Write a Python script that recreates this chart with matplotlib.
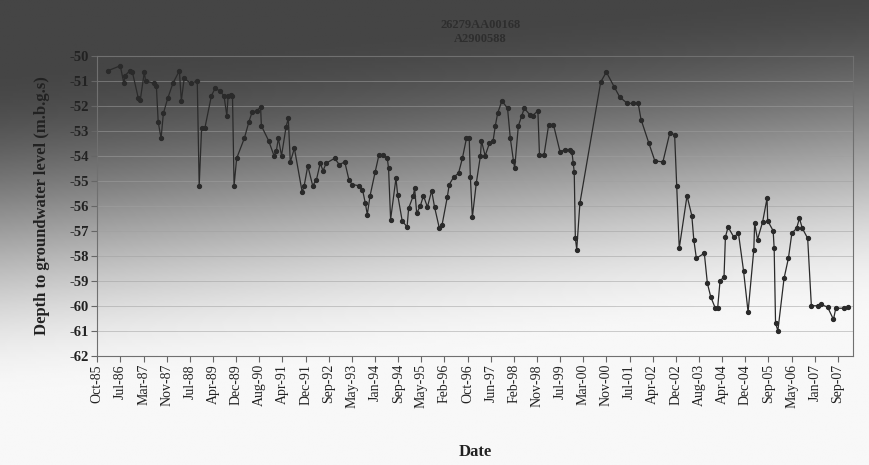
import numpy as np
import pandas as pd
import matplotlib
matplotlib.use('Agg')
import matplotlib.pyplot as plt

# groundwater depth readings
dates = ['1986-01-21', '1986-06-06', '1986-07-15', '1986-07-27', '1986-09-15', '1986-10-15',
         '1986-12-18', '1987-01-09', '1987-02-21', '1987-03-06', '1987-06-01', '1987-07-01',
         '1987-07-21', '1987-08-21', '1987-09-15', '1987-11-01', '1987-12-27', '1988-03-06',
         '1988-03-27', '1988-04-27', '1988-07-06', '1988-09-15', '1988-10-06', '1988-11-01',
         '1988-12-06', '1989-02-15', '1989-03-27', '1989-05-15', '1989-07-01', '1989-08-01',
         '1989-08-15', '1989-09-12', '1989-10-01', '1989-10-18', '1989-11-15', '1990-02-06',
         '1990-03-27', '1990-05-01', '1990-06-21', '1990-08-01', '1990-08-09', '1990-10-27',
         '1990-12-24', '1991-01-18', '1991-02-09', '1991-03-15', '1991-05-03', '1991-05-27',
         '1991-06-18', '1991-08-01', '1991-10-24', '1991-11-15', '1991-12-24', '1992-02-15',
         '1992-03-27', '1992-05-06', '1992-06-06', '1992-07-09', '1992-10-09', '1992-11-27',
         '1993-01-27', '1993-03-12', '1993-04-15', '1993-07-03', '1993-08-06', '1993-09-06',
         '1993-09-27', '1993-10-27', '1993-12-21', '1994-02-01', '1994-03-21', '1994-05-01',
         '1994-05-15', '1994-06-06', '1994-08-03', '1994-08-21', '1994-10-09', '1994-12-01',
         '1994-12-18', '1995-02-06', '1995-02-21', '1995-03-15', '1995-04-24', '1995-05-27',
         '1995-07-09', '1995-08-24', '1995-09-24', '1995-11-15', '1995-12-15', '1996-02-09',
         '1996-03-01', '1996-04-18', '1996-06-09', '1996-07-21', '1996-09-03', '1996-10-03',
         '1996-10-15', '1996-11-06', '1996-12-18', '1997-02-01', '1997-02-12', '1997-03-24',
         '1997-05-09', '1997-06-18', '1997-07-12', '1997-08-06', '1997-09-21', '1997-11-21',
         '1997-12-21', '1998-01-24', '1998-02-06', '1998-03-18', '1998-04-24', '1998-05-21',
         '1998-07-18', '1998-08-18', '1998-10-15', '1998-11-01', '1998-12-21', '1999-02-09',
         '1999-04-01', '1999-06-12', '1999-08-03', '1999-09-27', '1999-10-18', '1999-11-01',
         '1999-11-12', '1999-11-24', '1999-12-09', '2000-01-12', '2000-08-24', '2000-10-24',
         '2001-01-18', '2001-03-18', '2001-06-06', '2001-08-09', '2001-10-03', '2001-11-03',
         '2002-01-27', '2002-04-01', '2002-06-27', '2002-09-09', '2002-11-01', '2002-11-24',
         '2002-12-21', '2003-03-15', '2003-05-06', '2003-05-27', '2003-06-24', '2003-09-18',
         '2003-10-21', '2003-11-27', '2004-01-15', '2004-02-09', '2004-03-06', '2004-04-18',
         '2004-05-03', '2004-06-01', '2004-08-01', '2004-09-21', '2004-11-15', '2005-01-03',
         '2005-03-06', '2005-03-15', '2005-04-15', '2005-06-09', '2005-07-27', '2005-08-03',
         '2005-10-01', '2005-10-12', '2005-10-27', '2005-11-21', '2006-01-27', '2006-03-15',
         '2006-04-21', '2006-06-12', '2006-07-12', '2006-08-12', '2006-10-09', '2006-11-18',
         '2007-02-01', '2007-03-01', '2007-05-12', '2007-07-15', '2007-08-09', '2007-11-03',
         '2007-12-15']

depth = [-50.6, -50.4, -51.1, -50.8, -50.6, -50.65,
         -51.7, -51.75, -50.65, -51.0, -51.1, -51.2,
         -52.65, -53.3, -52.3, -51.7, -51.1, -50.6,
         -51.8, -50.9, -51.1, -51.0, -55.2, -52.9,
         -52.9, -51.6, -51.3, -51.4, -51.6, -52.4,
         -51.6, -51.55, -51.6, -55.2, -54.1, -53.3,
         -52.65, -52.25, -52.2, -52.05, -52.8, -53.4,
         -54.0, -53.8, -53.3, -54.0, -52.85, -52.5,
         -54.25, -53.7, -55.45, -55.2, -54.4, -55.2,
         -54.95, -54.3, -54.6, -54.3, -54.1, -54.35,
         -54.25, -54.95, -55.15, -55.2, -55.35, -55.9,
         -56.35, -55.6, -54.65, -53.95, -53.95, -54.1,
         -54.5, -56.55, -54.9, -55.55, -56.6, -56.85,
         -56.1, -55.6, -55.3, -56.3, -56.0, -55.6,
         -56.05, -55.4, -56.05, -56.9, -56.75, -55.65,
         -55.15, -54.85, -54.7, -54.1, -53.3, -53.3,
         -54.85, -56.45, -55.1, -54.0, -53.4, -54.0,
         -53.5, -53.4, -52.8, -52.3, -51.8, -52.1,
         -53.3, -54.2, -54.5, -52.8, -52.4, -52.1,
         -52.35, -52.4, -52.2, -53.95, -53.95, -52.75,
         -52.75, -53.85, -53.75, -53.75, -53.85, -54.3,
         -54.65, -57.3, -57.75, -55.9, -51.05, -50.65,
         -51.25, -51.65, -51.9, -51.9, -51.9, -52.55,
         -53.5, -54.2, -54.25, -53.1, -53.15, -55.2,
         -57.7, -55.6, -56.4, -57.35, -58.1, -57.9,
         -59.1, -59.65, -60.1, -60.1, -59.0, -58.85,
         -57.25, -56.85, -57.25, -57.1, -58.6, -60.25,
         -57.75, -56.7, -57.35, -56.65, -55.7, -56.6,
         -57.0, -57.7, -60.7, -61.0, -58.9, -58.1,
         -57.1, -56.9, -56.5, -56.9, -57.3, -60.0,
         -60.0, -59.95, -60.05, -60.55, -60.1, -60.1,
         -60.05]

tick_labels = ['Oct-85', 'Jul-86', 'Mar-87', 'Nov-87', 'Jul-88', 'Apr-89', 'Dec-89', 'Aug-90',
               'Apr-91', 'Dec-91', 'Sep-92', 'May-93', 'Jan-94', 'Sep-94', 'May-95', 'Feb-96',
               'Oct-96', 'Jun-97', 'Feb-98', 'Nov-98', 'Jul-99', 'Mar-00', 'Nov-00', 'Jul-01',
               'Apr-02', 'Dec-02', 'Aug-03', 'Apr-04', 'Dec-04', 'Sep-05', 'May-06', 'Jan-07',
               'Sep-07']
y_ticks = list(range(-62, -49))

title = '26279AA00168\nA2900588'

plt.rcParams['font.family'] = ['Liberation Serif', 'DejaVu Serif']

t = pd.to_datetime(dates)
fig = plt.figure(figsize=(8.69, 4.65), dpi=100)

# scanned-page shading: dark at the top, fading to white towards the bottom
bg = fig.add_axes([0, 0, 1, 1], zorder=-10)
gy, gx = np.mgrid[0:1:200j, 0:1:300j]
s = np.clip((gy + 0.18 * gx - 0.14) / 0.72, 0, 1)
s = s * s * (3 - 2 * s)
bg.imshow(0.27 + 0.70 * s, cmap='gray', vmin=0, vmax=1, aspect='auto',
          extent=[0, 1, 0, 1], origin='upper')
bg.axis('off')

ax = fig.add_axes([0.112, 0.235, 0.870, 0.645])
ax.patch.set_alpha(0)
ax.plot(t, depth, color='#2a2a2a', lw=0.9, marker='o', ms=2.8,
        mfc='#2a2a2a', mec='#2a2a2a')

first = pd.to_datetime(tick_labels[0], format='%b-%y')
last = pd.to_datetime(tick_labels[-1], format='%b-%y')
tick_pos = pd.to_datetime(np.linspace(first.value, last.value, len(tick_labels)))
ax.set_xticks(tick_pos)
ax.set_xticklabels(tick_labels, rotation=90, fontsize=10, color='#222222')
ax.set_xlim(first, pd.Timestamp('2008-02-15'))

ax.set_ylim(-62, -50)
ax.set_yticks(y_ticks)
ax.set_yticklabels([str(v) for v in y_ticks], fontsize=10.5, fontweight='bold',
                   color='#222222')
ax.grid(axis='y', color='#a0a0a0', lw=0.6, alpha=0.6)
ax.set_axisbelow(True)
for side in ['top', 'right', 'left', 'bottom']:
    ax.spines[side].set_color('#707070')
    ax.spines[side].set_linewidth(0.8)
ax.tick_params(axis='both', direction='out', length=4, color='#666666', pad=2)

ax.set_xlabel('Date', fontsize=12, fontweight='bold', color='#222222', labelpad=26)
ax.set_ylabel('Depth to groundwater level (m.b.g.s)', fontsize=12, fontweight='bold',
              color='#222222', labelpad=14)
fig.text(0.553, 0.96, title, ha='center', va='top', fontsize=9, fontweight='bold',
         color='#2e2e2e', linespacing=1.3)

fig.savefig('out.png', dpi=100)
